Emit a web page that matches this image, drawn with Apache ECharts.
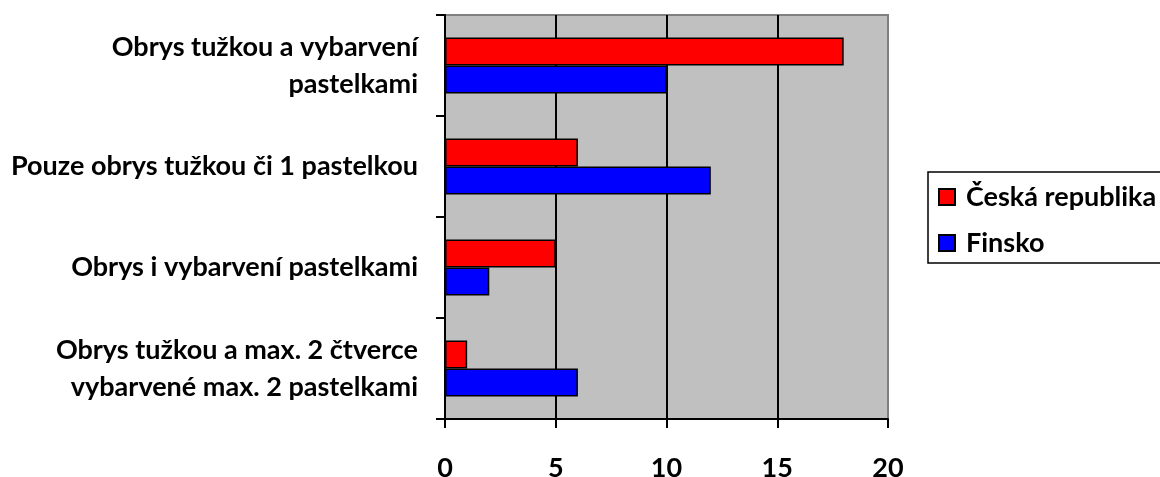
<!DOCTYPE html>
<html>
<head>
<meta charset="utf-8">
<script src="https://cdn.jsdelivr.net/npm/echarts@6/dist/echarts.min.js"></script>
<style>
  html, body { margin: 0; padding: 0; background: #ffffff; }
  #chart { width: 1160px; height: 477px; }
</style>
</head>
<body>
<div id="chart"></div>
<script>
// Categories, listed top to bottom
const categories = [
  'Obrys tužkou a vybarvení\npastelkami',
  'Pouze obrys tužkou či 1 pastelkou',
  'Obrys i vybarvení pastelkami',
  'Obrys tužkou a max. 2 čtverce\nvybarvené max. 2 pastelkami'
];
const seriesNames = ['Česká republika', 'Finsko'];
const czValues = [18, 6, 5, 1];
const fiValues = [10, 12, 2, 6];
const xTicks = [0, 5, 10, 15, 20];

const FONT = 'Lato, "Open Sans", sans-serif';
const FONT_SIZE = 27;
const chart = echarts.init(document.getElementById('chart'), null, { renderer: 'canvas' });

chart.setOption({
  animation: false,
  backgroundColor: '#ffffff',
  grid: {
    left: 445, top: 15, width: 443, height: 404,
    outerBoundsMode: 'none',
    containLabel: false,
    show: true,
    backgroundColor: '#c0c0c0',
    borderColor: '#808080',
    borderWidth: 2
  },
  legend: {
    orient: 'vertical',
    left: 928, top: 172,
    padding: [10, 10, 5, 10],
    itemGap: 16,
    itemWidth: 16, itemHeight: 16,
    icon: 'rect',
    borderColor: '#000000',
    borderWidth: 1.5,
    textStyle: {
      fontFamily: FONT, fontWeight: 'bold', fontSize: FONT_SIZE,
      color: '#000000', lineHeight: 30, padding: [0, 0, 0, 6]
    },
    data: seriesNames
  },
  xAxis: {
    type: 'value',
    min: xTicks[0], max: xTicks[xTicks.length - 1], interval: xTicks[1] - xTicks[0],
    axisLine: { show: true, lineStyle: { color: '#000000', width: 2 } },
    axisTick: { show: true, length: 9, lineStyle: { color: '#000000', width: 2 } },
    axisLabel: {
      margin: 36,
      fontFamily: FONT, fontWeight: 'bold', fontSize: FONT_SIZE, color: '#000000'
    },
    splitLine: { show: true, showMaxLine: false, lineStyle: { color: '#000000', width: 2 } }
  },
  yAxis: {
    type: 'category',
    inverse: true,
    data: categories,
    axisLine: { show: true, lineStyle: { color: '#000000', width: 2 } },
    axisTick: { show: true, length: 9, lineStyle: { color: '#000000', width: 2 } },
    axisLabel: {
      margin: 27,
      fontFamily: FONT, fontWeight: 'bold', fontSize: FONT_SIZE, color: '#000000',
      lineHeight: 37, align: 'right', padding: [4, 0, 0, 0]
    },
    splitLine: { show: false }
  },
  series: [
    {
      name: seriesNames[0], type: 'bar', data: czValues,
      barWidth: 28, barGap: '0%',
      itemStyle: { color: '#ff0000', borderColor: '#000000', borderWidth: 1.5 }
    },
    {
      name: seriesNames[1], type: 'bar', data: fiValues,
      barWidth: 28, barGap: '0%',
      itemStyle: { color: '#0000ff', borderColor: '#000000', borderWidth: 1.5 }
    }
  ]
});
</script>
</body>
</html>
